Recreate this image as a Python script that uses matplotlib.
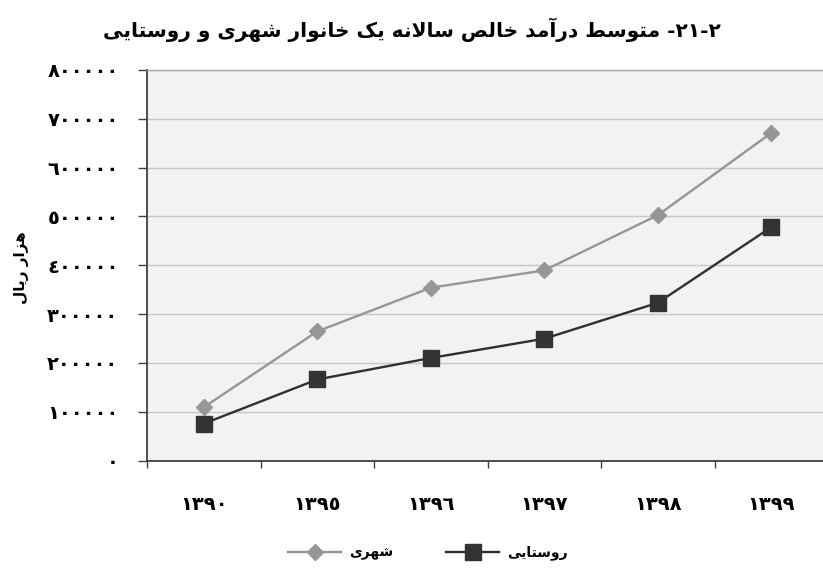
import matplotlib
matplotlib.use("Agg")
import matplotlib.pyplot as plt
from matplotlib.lines import Line2D

# ---------------- data ----------------
years = ["١٣٩٠", "١٣٩٥", "١٣٩٦", "١٣٩٧", "١٣٩٨", "١٣٩٩"]
urban = [109000, 264500, 354000, 389500, 502500, 671000]      # شهری
rural = [75500, 166000, 210000, 249500, 323000, 478000]       # روستایی
y_ticks = [0, 100000, 200000, 300000, 400000, 500000, 600000, 700000, 800000]
y_tick_labels = ["٠", "١٠٠٠٠٠", "٢٠٠٠٠٠", "٣٠٠٠٠٠", "٤٠٠٠٠٠",
                 "٥٠٠٠٠٠", "٦٠٠٠٠٠", "٧٠٠٠٠٠", "٨٠٠٠٠٠"]
title_text = "٢-٢١- متوسط درآمد خالص سالانه یک خانوار شهری و روستایی"
ylabel_text = "هزار ریال"
urban_label = "شهری"
rural_label = "روستایی"

# ------------- minimal Arabic/Persian shaping + RTL ordering -------------
FORMS = {  # isolated, final, initial, medial
    "\u0622": ("\uFE81", "\uFE82", None, None),
    "\u0627": ("\uFE8D", "\uFE8E", None, None),
    "\u0628": ("\uFE8F", "\uFE90", "\uFE91", "\uFE92"),
    "\u062A": ("\uFE95", "\uFE96", "\uFE97", "\uFE98"),
    "\u062E": ("\uFEA5", "\uFEA6", "\uFEA7", "\uFEA8"),
    "\u062F": ("\uFEA9", "\uFEAA", None, None),
    "\u0631": ("\uFEAD", "\uFEAE", None, None),
    "\u0632": ("\uFEAF", "\uFEB0", None, None),
    "\u0633": ("\uFEB1", "\uFEB2", "\uFEB3", "\uFEB4"),
    "\u0634": ("\uFEB5", "\uFEB6", "\uFEB7", "\uFEB8"),
    "\u0635": ("\uFEB9", "\uFEBA", "\uFEBB", "\uFEBC"),
    "\u0637": ("\uFEC1", "\uFEC2", "\uFEC3", "\uFEC4"),
    "\u0644": ("\uFEDD", "\uFEDE", "\uFEDF", "\uFEE0"),
    "\u0645": ("\uFEE1", "\uFEE2", "\uFEE3", "\uFEE4"),
    "\u0646": ("\uFEE5", "\uFEE6", "\uFEE7", "\uFEE8"),
    "\u0647": ("\uFEE9", "\uFEEA", "\uFEEB", "\uFEEC"),
    "\u0648": ("\uFEED", "\uFEEE", None, None),
    "\u06A9": ("\uFB8E", "\uFB8F", "\uFB90", "\uFB91"),
    "\u06CC": ("\uFBFC", "\uFBFD", "\uFBFE", "\uFBFF"),
}
LAM_ALEF = {"\u0627": ("\uFEFB", "\uFEFC"), "\u0622": ("\uFEF5", "\uFEF6")}


def _dual(c):
    return c in FORMS and FORMS[c][2] is not None


def shape(s):
    out = []
    i = 0
    n = len(s)
    while i < n:
        c = s[i]
        if c not in FORMS:
            out.append(c)
            i += 1
            continue
        prev = s[i - 1] if i > 0 else ""
        jp = _dual(prev)
        if c == "\u0644" and i + 1 < n and s[i + 1] in LAM_ALEF:
            iso, fin = LAM_ALEF[s[i + 1]]
            out.append(fin if jp else iso)
            i += 2
            continue
        nxt = s[i + 1] if i + 1 < n else ""
        jn = _dual(c) and nxt in FORMS
        iso, fin, ini, med = FORMS[c]
        if jp and jn:
            out.append(med)
        elif jp:
            out.append(fin)
        elif jn:
            out.append(ini)
        else:
            out.append(iso)
        i += 1
    return "".join(out)


def fa(s):
    t = shape(s)
    tokens = []
    for ch in t:
        if ch.isdigit() and tokens and tokens[-1][0].isdigit():
            tokens[-1] += ch
        else:
            tokens.append(ch)
    return "".join(reversed(tokens))


# ---------------- figure ----------------
FONT = "DejaVu Sans"
fig = plt.figure(figsize=(8.23, 5.72), dpi=100)
ax = fig.add_axes([147 / 823, 1 - 460.5 / 572, 681 / 823, 390.5 / 572])
ax.set_facecolor("#f2f2f2")

x = list(range(len(years)))
ax.plot(x, urban, color="#969696", lw=1.7, marker="D", markersize=8,
        markerfacecolor="#969696", markeredgecolor="#969696", zorder=3)
ax.plot(x, rural, color="#2f2f2f", lw=1.7, marker="s", markersize=11,
        markerfacecolor="#333333", markeredgecolor="#333333", zorder=4)

ax.set_xlim(-0.5, len(years) - 0.5)
ax.set_ylim(0, 800000)
ax.set_yticks(y_ticks)
ax.set_yticklabels(y_tick_labels, fontsize=14, fontweight="bold", family=FONT)
ax.set_xticks(x)
ax.set_xticklabels(years, fontsize=14, fontweight="bold", family=FONT)
ax.set_xticks([v - 0.5 for v in range(len(years) + 1)], minor=True)
ax.tick_params(axis="x", which="major", length=0, pad=25)
ax.tick_params(axis="x", which="minor", length=5, width=1, color="#404040")
ax.tick_params(axis="y", which="major", length=6.5, width=1, color="#404040", pad=14)

ax.grid(axis="y", color="#c8c8c8", lw=1.0, zorder=0)
ax.set_axisbelow(True)
for side in ["left", "bottom"]:
    ax.spines[side].set_color("#404040")
    ax.spines[side].set_linewidth(1.3)
ax.spines["top"].set_color("#a8a8a8")
ax.spines["top"].set_linewidth(1.0)
ax.spines["right"].set_visible(False)

fig.text(411.5 / 823, 1 - 30 / 572, fa(title_text), ha="center", va="center",
         fontsize=14.5, fontweight="bold", family=FONT)
fig.text(22 / 823, 1 - 268 / 572, fa(ylabel_text), ha="center", va="center",
         rotation=90, fontsize=11, fontweight="bold", family=FONT)

handles = [
    Line2D([], [], color="#969696", lw=1.7, marker="D", markersize=8,
           markerfacecolor="#969696", markeredgecolor="#969696"),
    Line2D([], [], color="#2f2f2f", lw=1.7, marker="s", markersize=11,
           markerfacecolor="#333333", markeredgecolor="#333333"),
]
fig.legend(handles, [fa(urban_label), fa(rural_label)], loc="center",
           bbox_to_anchor=(428 / 823, 1 - 553 / 572), ncol=2, frameon=False,
           handlelength=3.8, handletextpad=0.6, columnspacing=3.8,
           prop={"family": FONT, "weight": "bold", "size": 10})

fig.savefig("out.png", dpi=100)
